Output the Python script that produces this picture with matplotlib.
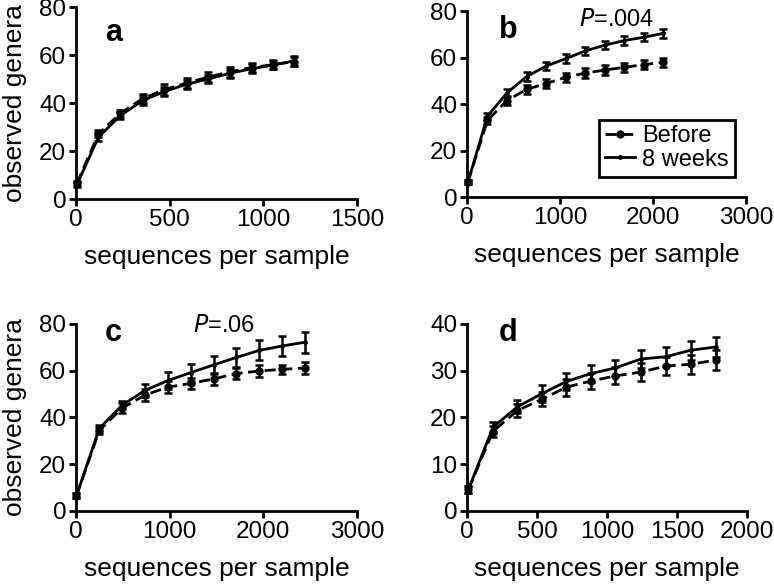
import numpy as np
import matplotlib.pyplot as plt

plt.rcParams['font.family'] = ['Liberation Sans', 'DejaVu Sans']

# panel a
a_x = [5, 120, 237, 355, 472, 590, 705, 822, 938, 1052, 1165]
a_before = [6.5, 27.2, 35.7, 41.8, 45.6, 48.3, 50.8, 53.0, 54.8, 56.0, 57.3]
a_before_err = [1.0, 1.5, 1.5, 2.0, 2.2, 2.0, 2.2, 2.2, 2.0, 2.0, 2.0]
a_8w = [6.0, 25.8, 34.8, 41.0, 44.8, 47.8, 50.0, 52.4, 54.3, 55.8, 57.6]
a_8w_err = [1.0, 1.5, 1.5, 1.8, 1.8, 1.8, 1.8, 1.8, 1.8, 1.8, 2.0]

# panel b
b_x = [10, 220, 430, 640, 850, 1060, 1270, 1480, 1690, 1900, 2110]
b_before = [6.5, 33.0, 41.5, 46.3, 48.8, 51.5, 53.3, 54.6, 55.8, 56.9, 58.0]
b_before_err = [1.0, 1.5, 2.0, 2.0, 2.0, 2.0, 2.0, 2.0, 2.0, 2.0, 2.0]
b_8w = [6.5, 34.8, 44.8, 51.8, 56.3, 59.5, 62.8, 65.3, 67.3, 68.7, 70.4]
b_8w_err = [1.0, 1.5, 1.8, 1.8, 1.8, 1.8, 1.8, 1.8, 1.8, 1.8, 2.0]

# panel c
c_x = [5, 249, 493, 737, 981, 1225, 1469, 1713, 1957, 2201, 2445]
c_before = [6.5, 34.5, 44.0, 49.6, 53.0, 54.6, 56.5, 58.8, 59.9, 60.6, 61.2]
c_before_err = [1.0, 1.5, 2.0, 2.5, 2.5, 2.5, 2.5, 2.5, 2.5, 2.0, 2.5]
c_8w = [6.5, 35.3, 45.3, 51.6, 55.8, 59.2, 62.5, 65.7, 68.7, 70.6, 72.2]
c_8w_err = [1.0, 1.5, 1.8, 2.8, 3.5, 3.8, 4.0, 4.2, 4.3, 4.3, 4.5]

# panel d
d_x = [10, 185, 360, 535, 710, 885, 1060, 1240, 1420, 1600, 1780]
d_before = [4.6, 17.0, 21.5, 23.9, 26.5, 27.8, 28.9, 29.7, 31.0, 31.4, 32.3]
d_before_err = [0.8, 1.2, 1.3, 1.5, 1.8, 1.8, 1.8, 2.0, 2.0, 2.0, 2.2]
d_8w = [4.6, 17.9, 22.3, 25.1, 27.7, 29.4, 30.6, 32.5, 33.0, 34.4, 35.1]
d_8w_err = [0.8, 1.2, 1.4, 1.8, 1.8, 1.8, 1.8, 2.0, 2.0, 2.0, 2.2]

panels = [
    ('a', a_x, a_before, a_before_err, a_8w, a_8w_err, 1500, [0, 500, 1000, 1500], 80, [0, 20, 40, 60, 80]),
    ('b', b_x, b_before, b_before_err, b_8w, b_8w_err, 3000, [0, 1000, 2000, 3000], 80, [0, 20, 40, 60, 80]),
    ('c', c_x, c_before, c_before_err, c_8w, c_8w_err, 3000, [0, 1000, 2000, 3000], 80, [0, 20, 40, 60, 80]),
    ('d', d_x, d_before, d_before_err, d_8w, d_8w_err, 2000, [0, 500, 1000, 1500, 2000], 40, [0, 10, 20, 30, 40]),
]
positions = [
    [0.0982, 0.6604, 0.3630, 0.3276],
    [0.6034, 0.6638, 0.3605, 0.3174],
    [0.0982, 0.1280, 0.3630, 0.3191],
    [0.6034, 0.1280, 0.3618, 0.3191],
]
letter_pos = [(200, 69), (440, 72), (395, 76), (293, 38)]

fig = plt.figure(figsize=(7.74, 5.86), dpi=100)
for i, (name, x, bef, bef_e, w8, w8_e, xmax, xt, ymax, yt) in enumerate(panels):
    ax = fig.add_axes(positions[i])
    eb1 = ax.errorbar(x, bef, yerr=bef_e, color='black', ls=(0, (4, 2)), lw=2,
                      marker='o', ms=5, elinewidth=1.8, capsize=3, capthick=1.8,
                      clip_on=False, zorder=3, label='Before')
    eb2 = ax.errorbar(x, w8, yerr=w8_e, color='black', ls='-', lw=2,
                      marker='o', ms=2.5, elinewidth=1.8, capsize=3, capthick=1.8,
                      clip_on=False, zorder=3, label='8 weeks')
    ax.set_xlim(0, xmax)
    ax.set_ylim(0, ymax)
    ax.set_xticks(xt)
    ax.set_yticks(yt)
    for s in ['top', 'right']:
        ax.spines[s].set_visible(False)
    for s in ['left', 'bottom']:
        ax.spines[s].set_linewidth(2)
    ax.tick_params(width=2, length=5, labelsize=17.5, pad=2)
    ax.set_xlabel('sequences per sample', fontsize=19, labelpad=10)
    if name in ('a', 'c'):
        ax.set_ylabel('observed genera', fontsize=19, labelpad=9)
    ax.text(letter_pos[i][0], letter_pos[i][1], name, fontsize=22, fontweight='bold',
            ha='center', va='center')
    if name == 'b':
        ax.text(1200, 76, r'$\it{P}$=.004', fontsize=17, ha='left', va='center')
        leg = ax.legend(handles=[eb1[0], eb2[0]], labels=['Before', '8 weeks'],
                        loc='lower right', bbox_to_anchor=(0.96, 0.11), fontsize=17,
                        handlelength=1.3, handletextpad=0.3, borderpad=0.25,
                        labelspacing=0.05, borderaxespad=0, fancybox=False,
                        framealpha=1, edgecolor='black')
        leg.get_frame().set_linewidth(2)
    if name == 'c':
        ax.text(1250, 79, r'$\it{P}$=.06', fontsize=17, ha='left', va='center')

fig.savefig('out.png', dpi=100)
